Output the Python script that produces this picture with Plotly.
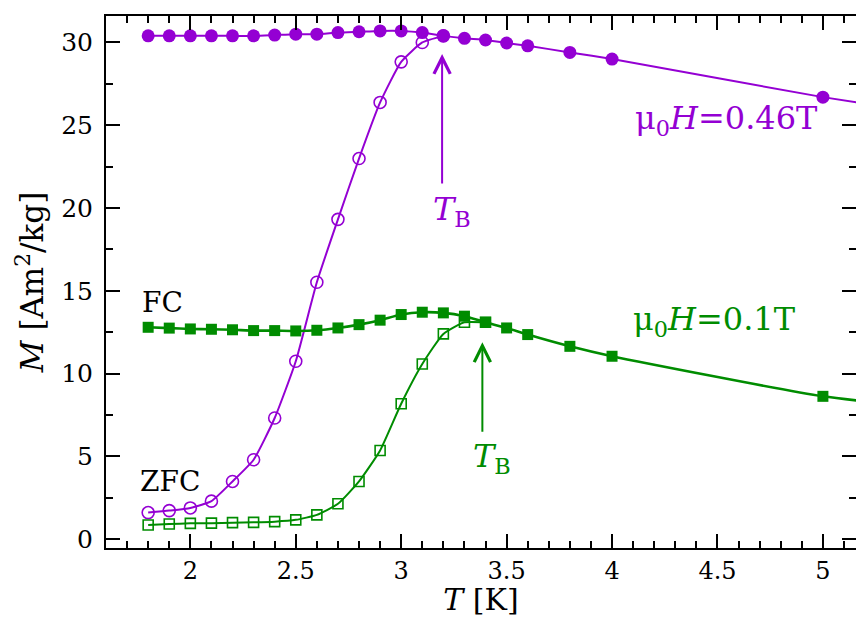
import plotly.graph_objects as go

# ---- data ----
T_fc_046 = [1.8, 1.9, 2.0, 2.1, 2.2, 2.3, 2.4, 2.5, 2.6, 2.7, 2.8, 2.9, 3.0, 3.1, 3.2, 3.3, 3.4, 3.5, 3.6, 3.8, 4.0, 5.0, 6.0]
M_fc_046 = [30.4, 30.4, 30.4, 30.4, 30.4, 30.4, 30.45, 30.5, 30.5, 30.6, 30.65, 30.7, 30.7, 30.6, 30.4, 30.25, 30.15, 29.97, 29.8, 29.4, 29.0, 26.7, 24.7]

T_zfc_046 = [1.8, 1.9, 2.0, 2.1, 2.2, 2.3, 2.4, 2.5, 2.6, 2.7, 2.8, 2.9, 3.0, 3.1, 3.2]
M_zfc_046 = [1.61, 1.73, 1.89, 2.30, 3.49, 4.80, 7.32, 10.75, 15.52, 19.32, 22.99, 26.38, 28.83, 30.0, 30.4]

T_fc_01 = [1.8, 1.9, 2.0, 2.1, 2.2, 2.3, 2.4, 2.5, 2.6, 2.7, 2.8, 2.9, 3.0, 3.1, 3.2, 3.3, 3.4, 3.5, 3.6, 3.8, 4.0, 5.0, 6.0]
M_fc_01 = [12.8, 12.75, 12.7, 12.68, 12.65, 12.6, 12.6, 12.58, 12.62, 12.76, 12.96, 13.23, 13.57, 13.71, 13.67, 13.47, 13.1, 12.76, 12.36, 11.65, 11.05, 8.63, 7.3]

T_zfc_01 = [1.8, 1.9, 2.0, 2.1, 2.2, 2.3, 2.4, 2.5, 2.6, 2.7, 2.8, 2.9, 3.0, 3.1, 3.2, 3.3, 3.4]
M_zfc_01 = [0.86, 0.92, 0.96, 0.97, 1.0, 1.02, 1.06, 1.17, 1.47, 2.14, 3.49, 5.36, 8.18, 10.58, 12.4, 13.1, 13.1]

x_ticks = [2, 2.5, 3, 3.5, 4, 4.5, 5]
x_ticklabels = ["2", "2.5", "3", "3.5", "4", "4.5", "5"]
y_ticks = [0, 5, 10, 15, 20, 25, 30]
y_ticklabels = ["0", "5", "10", "15", "20", "25", "30"]

PURPLE = "#9400D3"
GREEN = "#008C00"
FONT = "DejaVu Serif"
XR = [1.6, 5.157]
YR = [-0.53, 31.6]

fig = go.Figure()

fig.add_trace(go.Scatter(x=T_zfc_046, y=M_zfc_046, mode="lines+markers",
                         line=dict(color=PURPLE, width=2, shape="spline", smoothing=0.5),
                         marker=dict(symbol="circle-open", size=12, color=PURPLE, line=dict(width=1.6, color=PURPLE))))
fig.add_trace(go.Scatter(x=T_fc_046, y=M_fc_046, mode="lines+markers",
                         line=dict(color=PURPLE, width=2, shape="spline", smoothing=0.5),
                         marker=dict(symbol="circle", size=13, color=PURPLE)))
fig.add_trace(go.Scatter(x=T_zfc_01, y=M_zfc_01, mode="lines+markers",
                         line=dict(color=GREEN, width=2, shape="spline", smoothing=0.5),
                         marker=dict(symbol="square-open", size=10, color=GREEN, line=dict(width=1.6, color=GREEN))))
fig.add_trace(go.Scatter(x=T_fc_01, y=M_fc_01, mode="lines+markers",
                         line=dict(color=GREEN, width=2.6, shape="spline", smoothing=0.5),
                         marker=dict(symbol="square", size=11, color=GREEN)))
# empty trace to activate the mirrored frame axes
fig.add_trace(go.Scatter(x=[None], y=[None], xaxis="x2", yaxis="y2", showlegend=False, hoverinfo="skip"))

def minor(dt):
    return dict(ticks="inside", ticklen=7, tickwidth=2, tickcolor="black", dtick=dt, tick0=0, showgrid=False)

axis_common = dict(ticks="inside", ticklen=14, tickwidth=2, tickcolor="black",
                   linecolor="black", linewidth=2, showgrid=False, zeroline=False)

fig.update_layout(
    width=856, height=617,
    margin=dict(l=106, r=0, t=16, b=69),
    plot_bgcolor="white", paper_bgcolor="white",
    showlegend=False,
    font=dict(family=FONT, color="black"),
    xaxis=dict(range=XR, tickvals=x_ticks, ticktext=x_ticklabels, showline=True,
               tickfont=dict(size=24, family=FONT), ticklabelstandoff=0,
               title=dict(text="<i>T</i> [K]", font=dict(size=30, family=FONT), standoff=3),
               minor=minor(0.1), **axis_common),
    yaxis=dict(range=YR, tickvals=y_ticks, ticktext=y_ticklabels, showline=True,
               tickfont=dict(size=25, family=FONT), ticklabelstandoff=6,
               title=dict(text="<i>M</i> [Am<sup>2</sup>/kg]", font=dict(size=31, family=FONT), standoff=8),
               minor=minor(2.5), **axis_common),
    xaxis2=dict(range=XR, overlaying="x", side="top", anchor="y2", showline=True, showticklabels=False,
                tickvals=x_ticks, minor=minor(0.1), **axis_common),
    yaxis2=dict(range=YR, overlaying="y", side="right", anchor="x2", showline=False, showticklabels=False,
                tickvals=y_ticks, minor=minor(2.5), **axis_common),
)

# arrows
fig.add_annotation(x=3.194, y=29.3, ax=3.194, ay=21.4, xref="x", yref="y", axref="x", ayref="y",
                   text="", showarrow=True, arrowhead=5, arrowsize=1.6, arrowwidth=2, arrowcolor=PURPLE)
fig.add_annotation(x=3.385, y=11.9, ax=3.385, ay=6.4, xref="x", yref="y", axref="x", ayref="y",
                   text="", showarrow=True, arrowhead=5, arrowsize=1.6, arrowwidth=2, arrowcolor=GREEN)

# labels
fig.add_annotation(x=3.14, y=19.8, xref="x", yref="y", text="<i>T</i><sub>B</sub>", showarrow=False,
                   xanchor="left", yanchor="middle", font=dict(size=32, color=PURPLE, family=FONT))
fig.add_annotation(x=3.33, y=4.9, xref="x", yref="y", text="<i>T</i><sub>B</sub>", showarrow=False,
                   xanchor="left", yanchor="middle", font=dict(size=32, color=GREEN, family=FONT))
fig.add_annotation(x=4.10, y=25.3, xref="x", yref="y", text="μ<sub>0</sub><i>H</i>=0.46T", showarrow=False,
                   xanchor="left", yanchor="middle", font=dict(size=32, color=PURPLE, family=FONT))
fig.add_annotation(x=4.09, y=13.2, xref="x", yref="y", text="μ<sub>0</sub><i>H</i>=0.1T", showarrow=False,
                   xanchor="left", yanchor="middle", font=dict(size=32, color=GREEN, family=FONT))
fig.add_annotation(x=1.76, y=14.3, xref="x", yref="y", text="FC", showarrow=False,
                   xanchor="left", yanchor="middle", font=dict(size=28, color="black", family=FONT))
fig.add_annotation(x=1.75, y=3.5, xref="x", yref="y", text="ZFC", showarrow=False,
                   xanchor="left", yanchor="middle", font=dict(size=28, color="black", family=FONT))

fig.write_html("out.html")
